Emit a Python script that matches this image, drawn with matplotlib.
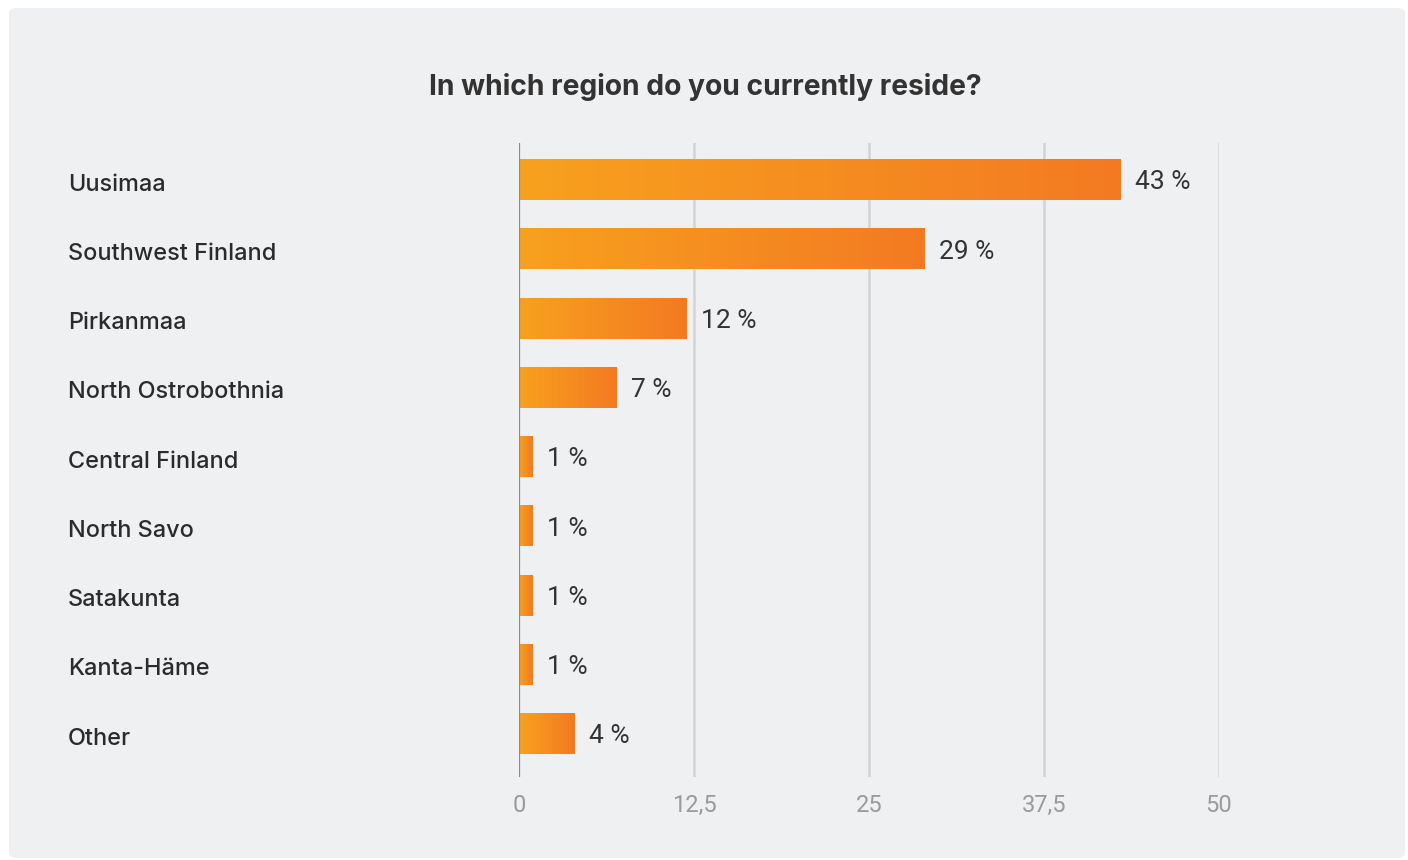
import numpy as np
import matplotlib.pyplot as plt
from matplotlib.patches import FancyBboxPatch
from matplotlib.colors import LinearSegmentedColormap

regions = ["Uusimaa", "Southwest Finland", "Pirkanmaa", "North Ostrobothnia",
           "Central Finland", "North Savo", "Satakunta", "Kanta-Häme", "Other"]
shares = [43, 29, 12, 7, 1, 1, 1, 1, 4]
ticks = [0, 12.5, 25, 37.5, 50]
tick_labels = ["0", "12,5", "25", "37,5", "50"]

W, H = 1408, 860
fig = plt.figure(figsize=(W / 100, H / 100), dpi=100)
fig.patch.set_facecolor("white")

# light grey card behind everything
card = FancyBboxPatch((9 / W, 2 / H), 1396 / W, 850 / H,
                      boxstyle="round,pad=0,rounding_size=0.006",
                      transform=fig.transFigure, facecolor="#eff0f2",
                      edgecolor="none", zorder=-10)
fig.patches.append(card)

fig.text(705 / W, 1 - 87 / H, "In which region do you currently reside?",
         ha="center", va="center", fontsize=20.3, fontweight="bold",
         family=["Inter", "DejaVu Sans"], color="#333333")

ax = fig.add_axes([519 / W, 1 - 777 / H, 700 / W, 634 / H])
ax.set_facecolor("none")
ax.set_zorder(1)

cmap = LinearSegmentedColormap.from_list("bar", ["#f8a11e", "#f37a22"])
grad = np.linspace(0, 1, 256).reshape(1, -1)
bar_h = 0.58
for i, v in enumerate(shares):
    ax.imshow(grad, cmap=cmap, aspect="auto", interpolation="bilinear",
              extent=(0, v, i + bar_h / 2, i - bar_h / 2), zorder=2)
    ax.text(v + 1.0, i + 0.035, f"{v} %", va="center", ha="left", fontsize=19,
            family=["Roboto", "DejaVu Sans"], color="#333333")
ax.set_xlim(0, 50)
ax.set_ylim(8.62, -0.535)

# category names sit at the left edge of the card
for i, name in enumerate(regions):
    y_disp = ax.transData.transform((0, i + 0.065))[1]
    fig.text(68 / W, y_disp / H, name, ha="left", va="center", fontsize=16.9,
             fontweight="medium", family=["Inter", "DejaVu Sans"],
             color="#2b2b2b")

for t in ticks[1:]:
    ax.axvline(t, color="#d2d3d6", lw=1.8, zorder=1)
ax.axvline(0, color="#8c8c8c", lw=1.6, zorder=3)

ax.set_xticks(ticks)
ax.set_xticklabels(tick_labels, fontsize=17, family=["Roboto", "DejaVu Sans"],
                   color="#9a9a9a")
ax.tick_params(axis="x", length=0, pad=12)
ax.set_yticks([])
for s in ax.spines.values():
    s.set_visible(False)

fig.savefig("out.png", dpi=100, facecolor="white")
